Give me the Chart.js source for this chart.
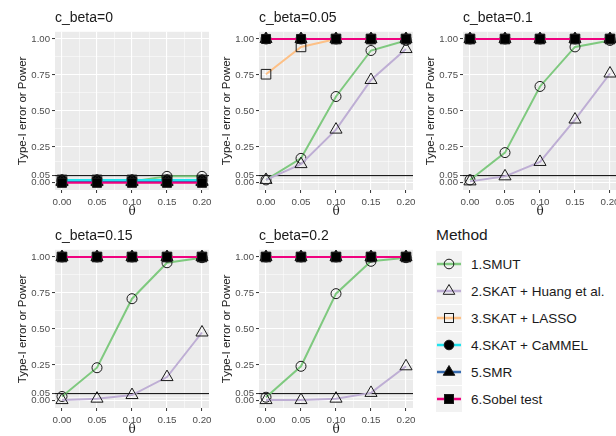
<!DOCTYPE html>
<html>
<head>
<meta charset="utf-8">
<script src="https://cdn.jsdelivr.net/npm/chart.js@4/dist/chart.umd.min.js"></script>
<style>
html,body{margin:0;padding:0;background:#fff;width:616px;height:436px;overflow:hidden;position:relative;font-family:"Liberation Sans",Arial,sans-serif}
.panel{position:absolute}
#legend{position:absolute;left:436px;top:226px;color:#1a1a1a}
#legend .lg-title{font-size:15.5px;line-height:18px;margin-bottom:7px}
#legend .lg-row{display:flex;align-items:center;height:26px;margin-bottom:1px;font-size:13.5px}
#legend .lg-row span{margin-left:9px}
#legend svg{display:block}
</style>
</head>
<body>
<div id="legend"></div>
<script>
const theta = [0, 0.05, 0.1, 0.15, 0.2];
const panelTitles = ['c_beta=0', 'c_beta=0.05', 'c_beta=0.1', 'c_beta=0.15', 'c_beta=0.2'];
const methods = ['1.SMUT', '2.SKAT + Huang et al.', '3.SKAT + LASSO', '4.SKAT + CaMMEL', '5.SMR', '6.Sobel test'];

// one row per panel (c_beta = 0, 0.05, 0.1, 0.15, 0.2), one value per theta
const smut   = [[0.01, 0.01, 0.01, 0.045, 0.045], [0.02, 0.17, 0.60, 0.92, 0.99], [0.02, 0.21, 0.67, 0.945, 0.99], [0.03, 0.23, 0.71, 0.96, 0.995], [0.025, 0.24, 0.745, 0.97, 0.995]];
const huang  = [[0.01, 0.01, 0.01, 0.01, 0.01], [0.02, 0.13, 0.37, 0.715, 0.93], [0.01, 0.045, 0.145, 0.44, 0.76], [0.005, 0.015, 0.04, 0.165, 0.475], [0.005, 0.005, 0.015, 0.055, 0.24]];
const lasso  = [[0.02, 0.02, 0.02, 0.02, 0.02], [0.755, 0.945, 1, 1, 1], [1, 1, 1, 1, 1], [1, 1, 1, 1, 1], [1, 1, 1, 1, 1]];
const cammel = [[0.02, 0.02, 0.02, 0.02, 0.02], [1, 1, 1, 1, 1], [1, 1, 1, 1, 1], [1, 1, 1, 1, 1], [1, 1, 1, 1, 1]];
const smr    = [[0.005, 0.005, 0.005, 0.005, 0.005], [1, 1, 1, 1, 1], [1, 1, 1, 1, 1], [1, 1, 1, 1, 1], [1, 1, 1, 1, 1]];
const sobel  = [[0, 0, 0, 0, 0], [1, 1, 1, 1, 1], [1, 1, 1, 1, 1], [1, 1, 1, 1, 1], [1, 1, 1, 1, 1]];

const yMajor = [0, 0.05, 0.25, 0.5, 0.75, 1];
const yMinor = [0.025, 0.15, 0.375, 0.625, 0.875];
const xMinor = [0.025, 0.075, 0.125, 0.175];
const alphaLevel = 0.05;

const series = [smut, huang, lasso, cammel, smr, sobel];
const lineColors = ['#7fc97f', '#beaed4', '#fdc086', '#1fe3ee', '#386cb0', '#f0027f'];
const markers = [
  {style: 'circle', r: 5, fill: false},
  {style: 'triangle', r: 7, fill: false},
  {style: 'rect', r: 6.8, fill: false},
  {style: 'circle', r: 5, fill: true},
  {style: 'triangle', r: 7, fill: true},
  {style: 'rect', r: 6.4, fill: true}
];
const slots = [[0, 0], [204, 0], [408, 0], [0, 218], [204, 218]];
const FONT = '"Liberation Sans", Arial, sans-serif';

const panelBg = {
  id: 'panelBg',
  beforeDraw(chart) {
    const {ctx, chartArea: a} = chart;
    ctx.save();
    ctx.fillStyle = '#ebebeb';
    ctx.fillRect(a.left, a.top, a.width, a.height);
    ctx.restore();
  },
  beforeDatasetsDraw(chart) {
    const {ctx, chartArea: a} = chart;
    const y = chart.scales.y.getPixelForValue(alphaLevel);
    ctx.save();
    ctx.strokeStyle = '#000';
    ctx.lineWidth = 1;
    ctx.beginPath();
    ctx.moveTo(a.left, y);
    ctx.lineTo(a.right, y);
    ctx.stroke();
    ctx.restore();
  }
};

function gridOpts(major) {
  const isMajor = c => c.tick && major.includes(c.tick.value);
  return {
    color: '#ffffff',
    lineWidth: c => isMajor(c) ? 1.1 : 0.5,
    tickLength: 3,
    tickWidth: 1,
    tickColor: c => isMajor(c) ? '#333333' : 'rgba(0,0,0,0)'
  };
}

function makePanel(p) {
  const wrap = document.createElement('div');
  wrap.className = 'panel';
  wrap.style.left = slots[p][0] + 'px';
  wrap.style.top = slots[p][1] + 'px';
  const cv = document.createElement('canvas');
  cv.width = 217; cv.height = 220;
  wrap.appendChild(cv);
  document.body.appendChild(wrap);

  new Chart(cv, {
    type: 'line',
    data: {
      datasets: series.map((s, i) => ({
        label: methods[i],
        data: theta.map((t, j) => ({x: t, y: s[p][j]})),
        borderColor: lineColors[i],
        borderWidth: 2,
        tension: 0,
        pointStyle: markers[i].style,
        pointRadius: markers[i].r,
        pointBorderColor: '#1a1a1a',
        pointBorderWidth: 1,
        pointBackgroundColor: markers[i].fill ? '#000' : 'rgba(0,0,0,0)',
        order: series.length - i
      }))
    },
    options: {
      responsive: false,
      animation: false,
      events: [],
      devicePixelRatio: 1,
      layout: {padding: {left: 0, right: 7, top: 0, bottom: 0}},
      plugins: {
        legend: {display: false},
        tooltip: {enabled: false},
        title: {
          display: true, text: panelTitles[p], align: 'start', fullSize: false,
          color: '#1a1a1a', font: {family: FONT, size: 14, weight: 'normal'},
          padding: {top: 10, bottom: 5}
        }
      },
      scales: {
        x: {
          type: 'linear', min: -0.01, max: 0.21,
          afterBuildTicks: s => { s.ticks = theta.concat(xMinor).sort((a, b) => a - b).map(v => ({value: v})); },
          afterFit: s => { s.height = 30; },
          ticks: {
            autoSkip: false, maxRotation: 0, padding: 3, color: '#4d4d4d',
            font: {family: FONT, size: 9.8},
            callback: v => theta.includes(v) ? v.toFixed(2) : ''
          },
          grid: gridOpts(theta),
          border: {display: false},
          title: {display: true, text: 'θ', color: '#1a1a1a', font: {family: '"DejaVu Serif", serif', size: 12}, padding: {top: 0, bottom: 1}}
        },
        y: {
          type: 'linear', min: -0.05, max: 1.05,
          afterBuildTicks: s => { s.ticks = yMajor.concat(yMinor).sort((a, b) => a - b).map(v => ({value: v})); },
          afterFit: s => { s.width = 55; },
          ticks: {
            autoSkip: false, padding: 2, color: '#4d4d4d',
            font: {family: FONT, size: 9.6},
            callback: v => yMajor.includes(v) ? v.toFixed(2) : ''
          },
          grid: gridOpts(yMajor),
          border: {display: false},
          title: {display: true, text: 'Type-I error or Power', color: '#1a1a1a', font: {family: FONT, size: 11.5}, padding: {top: 16, bottom: 0}}
        }
      }
    },
    plugins: [panelBg]
  });
}

panelTitles.forEach((t, p) => makePanel(p));

function keyGlyph(i) {
  const m = markers[i];
  const fill = m.fill ? '#000' : 'none';
  let g;
  if (m.style === 'circle') g = `<circle cx="13" cy="13" r="4.8" fill="${fill}" stroke="#1a1a1a" stroke-width="1"/>`;
  else if (m.style === 'triangle') g = `<polygon points="13,6.5 18.8,16.3 7.2,16.3" fill="${fill}" stroke="#1a1a1a" stroke-width="1"/>`;
  else g = `<rect x="8.5" y="8.5" width="9" height="9" fill="${fill}" stroke="#1a1a1a" stroke-width="1"/>`;
  return `<svg width="26" height="26"><rect width="26" height="26" fill="#f2f2f2"/>` +
    `<line x1="1" y1="13" x2="25" y2="13" stroke="${lineColors[i]}" stroke-width="2.5"/>${g}</svg>`;
}

document.getElementById('legend').innerHTML =
  '<div class="lg-title">Method</div>' +
  methods.map((m, i) => `<div class="lg-row">${keyGlyph(i)}<span>${m}</span></div>`).join('');
</script>
</body>
</html>
